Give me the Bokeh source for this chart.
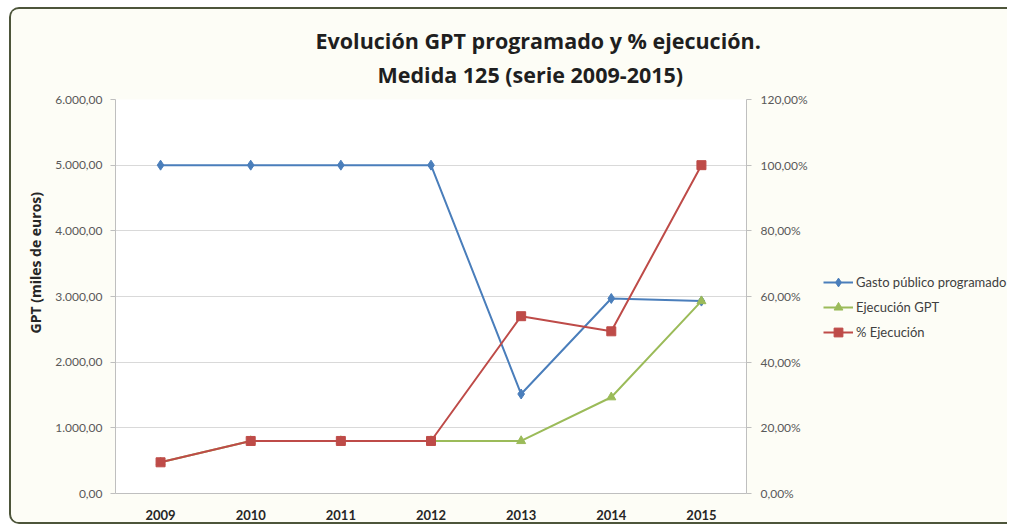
from bokeh.plotting import figure
from bokeh.layouts import row
from bokeh.models import (FactorRange, Range1d, LinearAxis, FixedTicker, Legend,
                          LegendItem, Title)
from bokeh.embed import file_html
from bokeh.resources import INLINE

# ---------------- data ----------------
years = ["2009", "2010", "2011", "2012", "2013", "2014", "2015"]
gasto_programado = [5000, 5000, 5000, 5000, 1515, 2970, 2930]
ejecucion_gpt = [475, 800, 800, 800, 800, 1466, 2930]
pct_ejecucion = [9.5, 16.0, 16.0, 16.0, 54.0, 49.4, 100.0]

left_ticks = [0, 1000, 2000, 3000, 4000, 5000, 6000]
left_tick_labels = ["0,00", "1.000,00", "2.000,00", "3.000,00", "4.000,00", "5.000,00", "6.000,00"]
right_ticks = [0, 20, 40, 60, 80, 100, 120]
right_tick_labels = ["0,00%", "20,00%", "40,00%", "60,00%", "80,00%", "100,00%", "120,00%"]

series_names = ["Gasto público programado", "Ejecución GPT", "% Ejecución"]
title_lines = ["Evolución GPT programado y % ejecución.", "Medida 125 (serie 2009-2015)"]
y_axis_title = "GPT (miles de euros)"

BLUE = "#4a7ebb"
GREEN = "#9bbb59"
RED = "#be4b48"
FONT = "Lato"
BOLD_FONT = "Open Sans"
CREAM = "#fdfdf6"
BORDER = "2px solid #4d553a"

p = figure(x_range=FactorRange(*years), y_range=Range1d(0, 6000),
           frame_width=631, frame_height=394, output_backend="svg", toolbar_location=None,
           min_border_left=104, min_border_right=70, min_border_top=90, min_border_bottom=29,
           background_fill_color="white", border_fill_color=CREAM,
           outline_line_color=None)

# x axis
p.xaxis.axis_line_color = "#bfbfbf"
p.xaxis.major_tick_line_color = None
p.xaxis.minor_tick_line_color = None
p.xaxis.major_label_text_font = FONT
p.xaxis.major_label_text_font_style = "bold"
p.xaxis.major_label_text_font_size = "13px"
p.xaxis.major_label_text_color = "#262626"
p.xaxis.major_label_standoff = 10
p.xgrid.grid_line_color = None

# left y axis
p.yaxis.ticker = FixedTicker(ticks=left_ticks)
p.yaxis.major_label_overrides = dict(zip(left_ticks, left_tick_labels))
p.yaxis.axis_line_color = "#bfbfbf"
p.yaxis.major_tick_line_color = "#bfbfbf"
p.yaxis.major_tick_out = 5
p.yaxis.major_tick_in = 0
p.yaxis.minor_tick_line_color = None
p.yaxis.major_label_standoff = 8
p.yaxis.major_label_text_font = FONT
p.yaxis.major_label_text_font_size = "12px"
p.yaxis.major_label_text_color = "#595959"
p.ygrid.grid_line_color = "#d9d9d9"
p.ygrid.ticker = FixedTicker(ticks=left_ticks)

# right y axis
p.extra_y_ranges = {"pct": Range1d(0, 120)}
ra = LinearAxis(y_range_name="pct", ticker=FixedTicker(ticks=right_ticks),
                major_label_overrides=dict(zip(right_ticks, right_tick_labels)))
ra.axis_line_color = "#bfbfbf"
ra.major_tick_line_color = "#bfbfbf"
ra.major_tick_out = 5
ra.major_tick_in = 0
ra.minor_tick_line_color = None
ra.major_label_standoff = 9
ra.major_label_text_font = FONT
ra.major_label_text_font_size = "12px"
ra.major_label_text_color = "#595959"
p.add_layout(ra, "right")

# series
styles_ = [(BLUE, "diamond", 10), (GREEN, "triangle", 9), (RED, "square", 9)]
p.line(years, gasto_programado, line_color=BLUE, line_width=2)
p.scatter(years, gasto_programado, marker="diamond", size=10, color=BLUE)
p.line(years, ejecucion_gpt, line_color=GREEN, line_width=2)
p.scatter(years, ejecucion_gpt, marker="triangle", size=9, color=GREEN)
p.line(years, pct_ejecucion, line_color=RED, line_width=2, y_range_name="pct")
p.scatter(years, pct_ejecucion, marker="square", size=9, color=RED, y_range_name="pct")

# titles (closest to the plot first)
p.add_layout(Title(text=title_lines[1], align="left", offset=262, standoff=22,
                   text_font=BOLD_FONT, text_font_size="21.5px", text_font_style="bold",
                   text_color="#1f1f1f"), "above")
p.add_layout(Title(text=title_lines[0], align="left", offset=200, standoff=-16,
                   text_font=BOLD_FONT, text_font_size="21.5px", text_font_style="bold",
                   text_color="#1f1f1f"), "above")
p.add_layout(Title(text=y_axis_title, align="left", offset=160, standoff=15,
                   text_font=BOLD_FONT, text_font_size="14px", text_font_style="bold",
                   text_color="#262626"), "left")

# legend panel (separate figure to the right of the chart); its proxy
# renderers sit outside the visible range, only their legend glyphs show
pl = figure(width=191, height=513, x_range=Range1d(0, 1), y_range=Range1d(0, 1),
            output_backend="svg", toolbar_location=None, min_border=0,
            x_axis_location=None, y_axis_location=None, outline_line_color=None,
            background_fill_color=CREAM, border_fill_color=CREAM)
pl.grid.visible = False
items = []
for name, (col, mk, sz) in zip(series_names, styles_):
    lr = pl.line(x=[-5, -4], y=[-5, -4], line_color=col, line_width=2)
    mr = pl.scatter(x=[-5], y=[-5], marker=mk, size=sz, color=col)
    items.append(LegendItem(label=name, renderers=[lr, mr]))
legend = Legend(items=items, location=(7, 150), padding=0, margin=0,
                border_line_color=None, background_fill_alpha=0,
                glyph_width=30, glyph_height=22, spacing=3, label_standoff=3,
                label_text_font=FONT, label_text_font_size="13px",
                label_text_color="#404040")
pl.add_layout(legend)

layout = row(p, pl, styles={"margin-left": "9px", "margin-top": "7px",
                            "border-top": BORDER, "border-left": BORDER,
                            "border-bottom": BORDER,
                            "border-top-left-radius": "10px",
                            "border-bottom-left-radius": "10px",
                            "overflow": "hidden", "background-color": CREAM})

open("out.html", "w").write(file_html(layout, INLINE))
